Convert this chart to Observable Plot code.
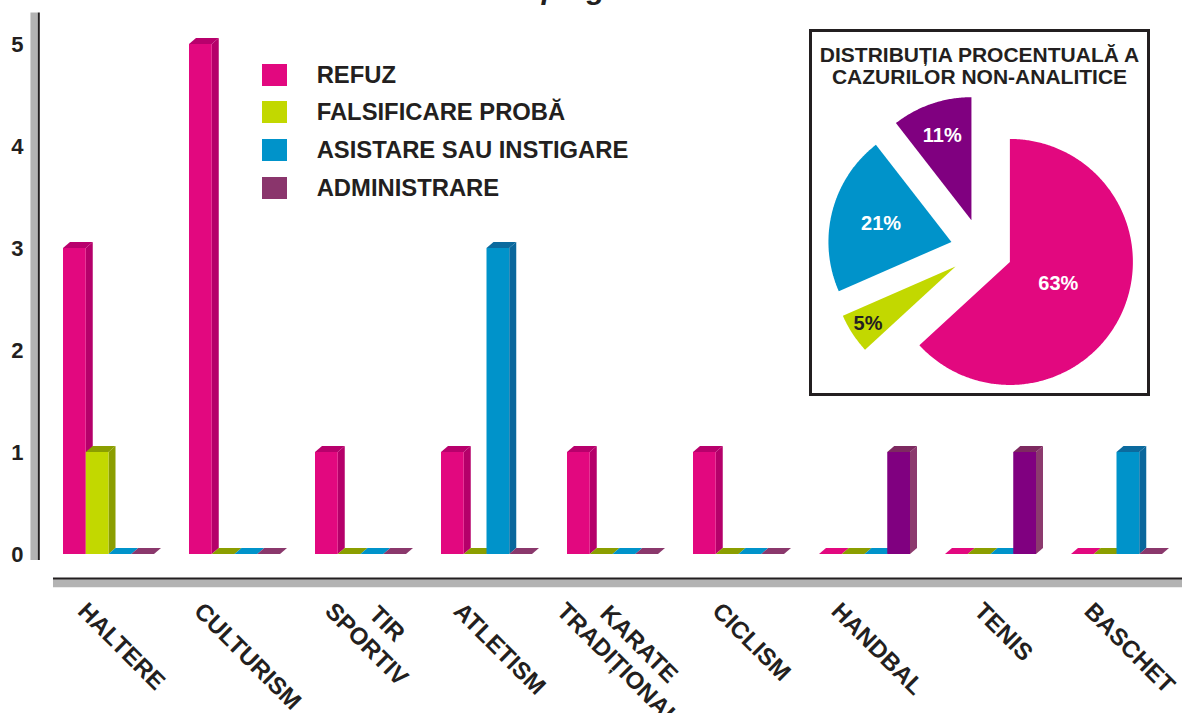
<!DOCTYPE html>
<html>
<head>
<meta charset="utf-8">
<script src="https://cdn.jsdelivr.net/npm/d3@7"></script>
<script src="https://cdn.jsdelivr.net/npm/@observablehq/plot@0.6"></script>
<style>
  html, body { margin: 0; padding: 0; background: #fff; overflow: hidden; }
  #page { position: relative; width: 1182px; height: 713px; overflow: hidden;
          font-family: "Liberation Sans", Arial, sans-serif; color: #231f20; }
  #title { position: absolute; left: 0; width: 1160px; top: -27px; text-align: center;
           font: italic bold 30px/32px "Liberation Sans", Arial, sans-serif; white-space: nowrap; color: #231f20; }
  #chart { position: absolute; left: 0; top: 0; }
  #legend { position: absolute; left: 262px; top: 63.5px; }
  .row { display: flex; align-items: center; height: 22px; margin-bottom: 15.7px; }
  .sw { width: 25px; height: 22px; margin-right: 29.7px; flex: none; }
  .lab { font-weight: bold; font-size: 23.8px; white-space: nowrap; line-height: 22px; }
  #pie { position: absolute; left: 809px; top: 29px; width: 341px; height: 367px;
         box-sizing: border-box; border: 3px solid #231f20; background: #fff; }
  #pieChart { position: absolute; left: 0; top: 0; }
  #pieTitle { position: absolute; left: 0; right: 0; top: 12px; text-align: center;
              font-weight: bold; font-size: 21px; line-height: 22px; white-space: nowrap; }
</style>
</head>
<body>
<div id="page">
  <div id="title"></div>
  <div id="chart"></div>
  <div id="legend"></div>
  <div id="pie"><div id="pieChart"></div><div id="pieTitle"></div></div>
</div>
<script>
// ---------------- DATA ----------------
const titleText = "Cazuri de doping non-analitice";
const sports = ["HALTERE", "CULTURISM", "TIR\nSPORTIV", "ATLETISM", "KARATE\nTRADIȚIONAL",
                "CICLISM", "HANDBAL", "TENIS", "BASCHET"];
const seriesNames = ["REFUZ", "FALSIFICARE PROBĂ", "ASISTARE SAU INSTIGARE", "ADMINISTRARE"];
const refuz        = [3, 5, 1, 1, 1, 1, 0, 0, 0];
const falsificare  = [1, 0, 0, 0, 0, 0, 0, 0, 0];
const asistare     = [0, 0, 0, 3, 0, 0, 0, 0, 1];
const administrare = [0, 0, 0, 0, 0, 0, 1, 1, 0];
const yTicks = [0, 1, 2, 3, 4, 5];
const pieTitleLines = ["DISTRIBUȚIA PROCENTUALĂ A", "CAZURILOR NON-ANALITICE"];

// ---------------- STYLE ----------------
const INK = "#231f20";
const frontColors  = ["#e2087f", "#c2d800", "#0093ca", "#800080"];
const sideColors   = ["#b5006a", "#8b9e00", "#0a679c", "#8c3a6e"];
const topColors    = ["#b8006c", "#8b9e00", "#0b6a9e", "#7d2a60"];
const zeroColors   = ["#e2087f", "#8b9e00", "#0093ca", "#8a386c"];
const legendColors = ["#e2087f", "#c2d800", "#0093ca", "#8a356c"];
const pieColors    = ["#e2087f", "#c2d800", "#0093ca", "#800080"];
const pieTextColors = ["#ffffff", INK, "#ffffff", "#ffffff"];

// layout constants (pixels)
const W = 1182, H = 713;
const BAR_PX = 22.75, GROUP_PX = 126;
const GROUP = GROUP_PX / BAR_PX;          // group pitch in bar units
const X0_PX = 63, Y0_PX = 554, Y5_PX = 44;
const DX3 = 7, DY3 = 6;                    // 3D depth
const LABEL_TOP = 597;
const MULTILINE_SHIFT = -7;

const values = [refuz, falsificare, asistare, administrare];
const rows = [];
sports.forEach((sport, gi) => seriesNames.forEach((series, si) =>
  rows.push({sport, series, gi, si, value: values[si][gi]})));
const bx1 = d => d.gi * GROUP + d.si;
const bx2 = d => d.gi * GROUP + d.si + 1;

document.getElementById("title").textContent = titleText;

// ---------------- MAIN CHART ----------------
const xMax = (sports.length - 1) * GROUP + seriesNames.length;
const marks = [
  // y axis bar (grey band + dark line)
  Plot.ruleX([0], {y1: -0.06, y2: 5.31, dx: -29.4, stroke: "#b3b3b3", strokeWidth: 7.3}),
  Plot.ruleX([0], {y1: -0.06, y2: 5.31, dx: -24.7, stroke: INK, strokeWidth: 2}),
  // bottom axis bar
  Plot.ruleY([0], {x1: -0.44, x2: xMax + 2, dy: 24.1, stroke: INK, strokeWidth: 2.4}),
  Plot.ruleY([0], {x1: -0.44, x2: xMax + 2, dy: 29, stroke: "#b3b3b3", strokeWidth: 7.5}),
];
seriesNames.forEach((s, si) => {
  marks.push(Plot.rect(rows.filter(d => d.si === si && d.value > 0),
    {x1: bx1, x2: bx2, y1: 0, y2: "value", fill: sideColors[si], ariaDescription: "bar-side"}));
});
seriesNames.forEach((s, si) => {
  marks.push(Plot.rect(rows.filter(d => d.si === si && d.value > 0),
    {x1: bx1, x2: bx2, y1: 0, y2: "value", fill: topColors[si], ariaDescription: "bar-top"}));
  marks.push(Plot.rect(rows.filter(d => d.si === si && d.value === 0),
    {x1: bx1, x2: bx2, y1: 0, y2: "value", fill: zeroColors[si], ariaDescription: "bar-top"}));
});
seriesNames.forEach((s, si) => {
  marks.push(Plot.rect(rows.filter(d => d.si === si && d.value > 0),
    {x1: bx1, x2: bx2, y1: 0, y2: "value", fill: frontColors[si], ariaDescription: "bar-front"}));
});
marks.push(Plot.text(yTicks, {y: d => d, text: d => String(d), frameAnchor: "left", textAnchor: "end",
  dx: -40, fontSize: 22, fontWeight: "bold", fill: INK}));
marks.push(Plot.text(sports, {x: (d, i) => i * GROUP + seriesNames.length / 2, frameAnchor: "bottom",
  text: d => d, rotate: 45, textAnchor: "middle", dx: 7, dy: 60, fontSize: 24, fontWeight: "bold",
  lineHeight: 1.2, fill: INK, ariaDescription: "x-labels"}));

const svg = Plot.plot({
  width: W, height: H,
  marginLeft: X0_PX, marginRight: W - X0_PX - (8 * GROUP_PX + 4 * BAR_PX),
  marginTop: Y5_PX, marginBottom: H - Y0_PX,
  x: {domain: [0, xMax], axis: null},
  y: {domain: [0, 5], axis: null},
  style: {fontFamily: '"Liberation Sans", Arial, sans-serif', color: INK, background: "transparent", overflow: "visible"},
  marks
});
document.getElementById("chart").appendChild(svg);

// 3D faces from the rendered rects
const NS = "http://www.w3.org/2000/svg";
function reshape(label, kind) {
  svg.querySelectorAll(`g[aria-description="${label}"] rect`).forEach(r => {
    const x = +r.getAttribute("x"), y = +r.getAttribute("y");
    const w = +r.getAttribute("width"), h = +(r.getAttribute("height") || 0);
    const pts = kind === "side"
      ? [[x + w, y], [x + w + DX3, y - DY3], [x + w + DX3, y + h - DY3], [x + w, y + h]]
      : [[x, y], [x + DX3, y - DY3], [x + w + DX3, y - DY3], [x + w, y]];
    const p = document.createElementNS(NS, "polygon");
    p.setAttribute("points", pts.map(q => q.map(v => v.toFixed(2)).join(",")).join(" "));
    if (r.hasAttribute("fill")) p.setAttribute("fill", r.getAttribute("fill"));
    r.replaceWith(p);
  });
}
reshape("bar-side", "side");
reshape("bar-top", "top");

// align rotated category labels at a common top (using each line's own box)
const svgTop = svg.getBoundingClientRect().top;
svg.querySelectorAll('g[aria-description="x-labels"] text').forEach(t => {
  const parts = t.querySelectorAll("tspan");
  const els = parts.length ? Array.from(parts) : [t];
  const top = d3.min(els, e => e.getBoundingClientRect().top);
  const shift = LABEL_TOP - (top - svgTop);
  const sx = els.length > 1 ? MULTILINE_SHIFT : 0;
  t.setAttribute("transform", `translate(${sx},${shift.toFixed(2)}) ` + (t.getAttribute("transform") || ""));
});

// ---------------- LEGEND ----------------
const legend = document.getElementById("legend");
seriesNames.forEach((s, i) => {
  const row = document.createElement("div"); row.className = "row";
  const sw = document.createElement("div"); sw.className = "sw"; sw.style.background = legendColors[i];
  const lab = document.createElement("div"); lab.className = "lab"; lab.textContent = s;
  row.append(sw, lab); legend.appendChild(row);
});

// ---------------- PIE ----------------
document.getElementById("pieTitle").innerHTML = pieTitleLines.join("<br>");
const totals = values.map(v => d3.sum(v));
const total = d3.sum(totals);
const arcs = d3.pie().sort(null).startAngle(0).endAngle(2 * Math.PI)(totals);
const PW = 335, PH = 361, R_PX = 123, CX_PX = 169, CY_PX = 217;
const EXPLODE = 31 / R_PX;
const LABEL_R = [0.43, 0.85, 0.59, 0.73];
const pieMarks = [];
arcs.forEach((a, i) => {
  const m = (a.startAngle + a.endAngle) / 2;
  const ox = EXPLODE * Math.sin(m), oy = EXPLODE * Math.cos(m);
  const pts = [{x: ox, y: oy}];
  const n = Math.max(2, Math.ceil((a.endAngle - a.startAngle) / 0.01));
  for (let k = 0; k <= n; k++) {
    const t = a.startAngle + (a.endAngle - a.startAngle) * k / n;
    pts.push({x: ox + Math.sin(t), y: oy + Math.cos(t)});
  }
  pts.push({x: ox, y: oy});
  pieMarks.push(Plot.line(pts, {x: "x", y: "y", fill: pieColors[i], stroke: "none"}));
});
arcs.forEach((a, i) => {
  const m = (a.startAngle + a.endAngle) / 2;
  pieMarks.push(Plot.text([a], {
    x: () => EXPLODE * Math.sin(m) + LABEL_R[i] * Math.sin(m),
    y: () => EXPLODE * Math.cos(m) + LABEL_R[i] * Math.cos(m),
    text: d => Math.round(100 * d.value / total) + "%",
    fill: pieTextColors[i], fontSize: 20, fontWeight: "bold"
  }));
});
const pieSvg = Plot.plot({
  width: PW, height: PH, margin: 0,
  x: {domain: [-CX_PX / R_PX, (PW - CX_PX) / R_PX], axis: null},
  y: {domain: [-(PH - CY_PX) / R_PX, CY_PX / R_PX], axis: null},
  style: {fontFamily: '"Liberation Sans", Arial, sans-serif', background: "transparent"},
  marks: pieMarks
});
document.getElementById("pieChart").appendChild(pieSvg);
</script>
</body>
</html>
